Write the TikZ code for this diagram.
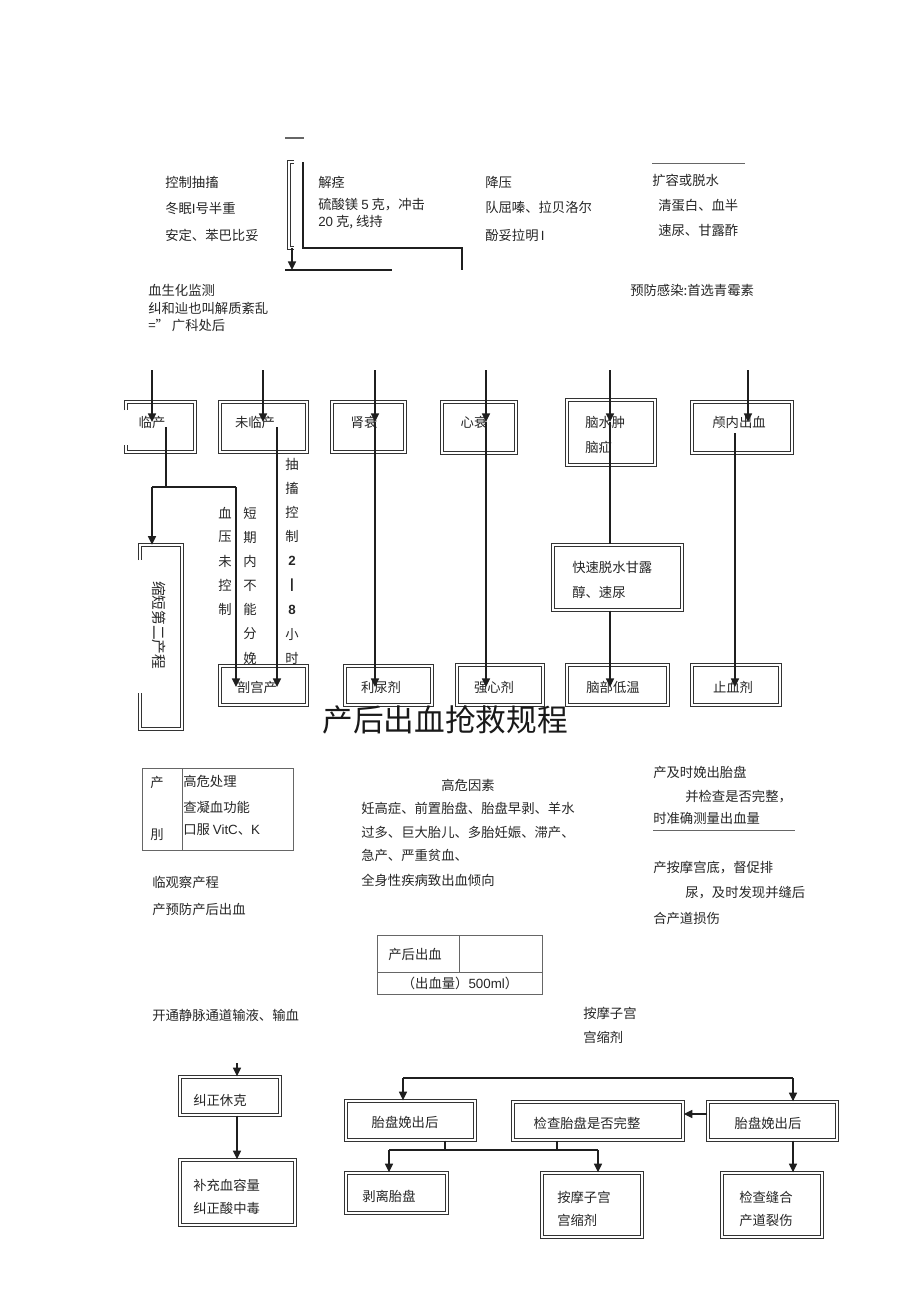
\documentclass[tikz,border=0pt]{standalone}
\usepackage{fontspec}
\setmainfont{Noto Sans CJK SC}
\newfontfamily\latinsans{Liberation Sans}
\usetikzlibrary{arrows.meta,fit,calc}
\begin{document}
\begin{tikzpicture}[x=0.75pt,y=-0.75pt,
  txt/.style={inner sep=0pt, anchor=west, font=\fontsize{10}{12}\selectfont, text=black!85},
  ctxt/.style={inner sep=0pt, font=\fontsize{10}{12}\selectfont, text=black!85},
  dbox/.style={draw=black!80, double=white, double distance=1.5pt, line width=1pt, inner sep=0pt},
  ln/.style={draw=black!88, line width=1.1pt},
  arr/.style={ln, -{Triangle[length=6.5pt,width=6pt]}},
  thinl/.style={draw=black!60, line width=0.6pt}]
\fill[white] (0,0) rectangle (920,1303);
\useasboundingbox (0,0) rectangle (920,1303);

% ---------- top part ----------
\draw[thinl, line width=0.9pt] (285,138) -- (304,138);
\draw[draw=black!80, double=white, double distance=1pt, line width=0.9pt] (294,162) -- (289,162) -- (289,248) -- (294,248);
\draw[ln] (303,162) -- (303,248) -- (462,248) -- (462,270);
\coordinate (ta) at (292,248);
\coordinate (tb) at (292,270);
\draw[arr] (ta) -- (tb);
\draw[ln] (285,270) -- (392,270);

\node[txt] (t1a) at (165,182) {控制抽搐};
\node[txt] (t1b) at (165,208) {冬眠{\latinsans I}号半重};
\node[txt] (t1c) at (165,235) {安定、苯巴比妥};
\node[txt] (t2a) at (318,182) {解痉};
\node[txt] (t2b) at (318,205) {硫酸镁 {\latinsans 5} 克，冲击};
\node[txt] (t2c) at (318,222) {{\latinsans 20} 克, 线持};
\node[txt] (t3a) at (485,182) {降压};
\node[txt] (t3b) at (485,207) {队屈嗪、拉贝洛尔};
\node[txt] (t3c) at (485,235) {酚妥拉明{\latinsans\,I}};
\draw[thinl] (652,163) -- (745,163);
\node[txt] (t4a) at (652,180) {扩容或脱水};
\node[txt] (t4b) at (658,205) {清蛋白、血半};
\node[txt] (t4c) at (658,230) {速尿、甘露酢};
\node[txt] (t5) at (630,290) {预防感染:首选青霉素};
\node[txt] (t6a) at (148,290) {血生化监测};
\node[txt] (t6b) at (148,308) {纠和辿也叫解质紊乱};
\node[txt] (t6c) at (148,325) {=”\ 广科处后};

% ---------- first row of boxes ----------
\draw[dbox] (126,410) -- (126,402) -- (195,402) -- (195,452) -- (126,452) -- (126,445);
\node[inner sep=0pt, fit={(126,402) (195,452)}] (blc) {};
\node[dbox, fit={(220,402) (307,452)}] (bwl) {};
\node[dbox, fit={(332,402) (405,452)}] (bss) {};
\node[dbox, fit={(442,402) (516,453)}] (bxs) {};
\node[dbox, fit={(567,400) (655,465)}] (bns) {};
\node[dbox, fit={(692,402) (792,453)}] (bln) {};

\node[ctxt] (xlc) at (152,422) {临产};
\node[ctxt] (xwl) at (255,422) {未临产};
\node[ctxt] (xss) at (364,422) {肾衰};
\node[ctxt] (xxs) at (474,422) {心衰};
\node[txt] (xns1) at (585,422) {脑水肿};
\node[txt] (xns2) at (585,447) {脑疝};
\node[ctxt] (xln) at (739,422) {颅内出血};

% ---------- second row of boxes ----------
\draw[dbox] (140,560) -- (140,545) -- (182,545) -- (182,729) -- (140,729) -- (140,693);
\node[inner sep=0pt, fit={(140,545) (182,729)}] (bsd) {};
\node[ctxt, rotate=-90, font=\fontsize{11}{12}\selectfont] (xsd) at (159,625) {缩短第二产程};

\node[dbox, fit={(553,545) (682,610)}] (bks) {};
\node[txt] (xks1) at (572,567) {快速脱水甘露};
\node[txt] (xks2) at (572,592) {醇、速尿};

\node[dbox, fit={(220,666) (307,705)}] (bpg) {};
\node[dbox, fit={(345,666) (432,705)}] (bln2) {};
\node[dbox, fit={(457,665) (543,705)}] (bqx) {};
\node[dbox, fit={(567,665) (668,705)}] (bnb) {};
\node[dbox, fit={(692,665) (780,705)}] (bzx) {};
\node[ctxt] (xpg) at (257,687) {剖宫产};
\node[ctxt] (xlz) at (381,687) {利尿剂};
\node[ctxt] (xqx) at (494,687) {强心剂};
\node[ctxt] (xnb) at (613,687) {脑部低温};
\node[ctxt] (xzx) at (733,687) {止血剂};

% vertical text columns
\foreach \c [count=\i from 0] in {血,压,未,控,制}
  \node[ctxt] (va\i) at (225,513+24.2*\i) {\c};
\foreach \c [count=\i from 0] in {短,期,内,不,能,分,娩}
  \node[ctxt] (vb\i) at (250,513+24.2*\i) {\c};
\foreach \c [count=\i from 0] in {抽,搐,控,制,{\latinsans\bfseries 2},{\latinsans\bfseries |},{\latinsans\bfseries 8},小,时}
  \node[ctxt] (vc\i) at (292,464+24.3*\i) {\c};

% connectors upper flow
\coordinate (s1) at (152,370);
\coordinate (s2) at (263,370);
\coordinate (s3) at (375,370);
\coordinate (s4) at (486,370);
\coordinate (s5) at (610,370);
\coordinate (s6) at (748,370);
\draw[arr] (s1) -- (s1 |- xlc.center);
\draw[arr] (s2) -- (s2 |- xwl.center);
\draw[arr] (s3) -- (s3 |- xss.center);
\draw[arr] (s4) -- (s4 |- xxs.center);
\draw[arr] (s5) -- (s5 |- xns1.center);
\draw[arr] (s6) -- (s6 |- xln.center);

\coordinate (p1) at (166,487);
\coordinate (p2) at (152,487);
\coordinate (p3) at (236,487);
\draw[ln] (p1 |- 0,427) -- (p1);
\draw[ln] (p2) -- (p3);
\draw[arr] (p2) -- (p2 |- bsd.north);
\draw[arr] (p3) -- (p3 |- xpg.center);
\coordinate (p4) at (277,427);
\draw[arr] (p4) -- (p4 |- xpg.center);
\draw[arr] (s3 |- xss.center) -- (s3 |- xlz.center);
\draw[arr] (s4 |- xxs.center) -- (s4 |- xqx.center);
\draw[ln] (s5 |- xns1.center) -- (s5 |- bks.north);
\draw[arr] (s5 |- bks.south) -- (s5 |- xnb.center);
\coordinate (p5) at (735,433);
\draw[arr] (p5) -- (p5 |- xzx.center);

% ---------- title ----------
\node[inner sep=0pt, font=\fontsize{23}{26}\selectfont, text=black!90] (title) at (445,720) {产后出血抢救规程};

% ---------- lower texts ----------
\node[thinl, draw, inner sep=0pt, fit={(142,768) (293,850)}] (tab1) {};
\draw[thinl] (182,768) -- (182,850);
\node[ctxt] (ta1) at (157,782) {产};
\node[ctxt] (ta2) at (157,835) {刖};
\node[txt] (tb1) at (183,781) {高危处理};
\node[txt] (tb2) at (183,807) {查凝血功能};
\node[txt] (tb3) at (183,830) {口服 {\latinsans VitC}、{\latinsans K}};
\node[txt] (tc1) at (152,882) {临观察产程};
\node[txt] (tc2) at (152,909) {产预防产后出血};

\node[ctxt] (hw0) at (468,785) {高危因素};
\node[txt] (hw1) at (361,808) {妊高症、前置胎盘、胎盘早剥、羊水};
\node[txt] (hw2) at (361,832) {过多、巨大胎儿、多胎妊娠、滞产、};
\node[txt] (hw3) at (361,855) {急产、严重贫血、};
\node[txt] (hw4) at (361,880) {全身性疾病致出血倾向};

\node[txt] (r1) at (653,772) {产及时娩出胎盘};
\node[txt] (r2) at (685,797) {并检查是否完整，};
\node[txt] (r3) at (653,818) {时准确测量出血量};
\draw[thinl] (653,830) -- (795,830);
\node[txt] (r4) at (653,868) {产按摩宫底，督促排};
\node[txt] (r5) at (685,893) {尿，及时发现并缝后};
\node[txt] (r6) at (653,918) {合产道损伤};

\node[thinl, draw, inner sep=0pt, fit={(377,935) (542,994)}] (tab2) {};
\draw[thinl] (377,972) -- (542,972);
\draw[thinl] (459,935) -- (459,972);
\node[ctxt] (cx1) at (415,954) {产后出血};
\node[ctxt] (cx2) at (460,983) {（出血量）{\latinsans 500ml}）};

\node[txt] (kt) at (152,1015) {开通静脉通道输液、输血};
\node[txt] (am1) at (583,1013) {按摩子宫};
\node[txt] (am2) at (583,1037) {宫缩剂};

% ---------- bottom flow ----------
\node[dbox, fit={(180,1077) (280,1115)}] (jz) {};
\node[txt] (xjz) at (193,1100) {纠正休克};
\node[dbox, fit={(180,1160) (295,1225)}] (bc) {};
\node[txt] (xbc1) at (193,1185) {补充血容量};
\node[txt] (xbc2) at (193,1208) {纠正酸中毒};
\node[dbox, fit={(346,1101) (475,1140)}] (tp1) {};
\node[ctxt] (xtp1) at (405,1122) {胎盘娩出后};
\node[dbox, fit={(346,1173) (447,1213)}] (bl) {};
\node[txt] (xbl) at (362,1196) {剥离胎盘};
\node[dbox, fit={(513,1102) (683,1140)}] (jc) {};
\node[ctxt] (xjc) at (587,1123) {检查胎盘是否完整};
\node[dbox, fit={(708,1102) (837,1140)}] (tp2) {};
\node[ctxt] (xtp2) at (768,1123) {胎盘娩出后};
\node[dbox, fit={(542,1173) (642,1237)}] (am) {};
\node[txt] (xam1) at (557,1197) {按摩子宫};
\node[txt] (xam2) at (557,1220) {宫缩剂};
\node[dbox, fit={(722,1173) (822,1237)}] (jf) {};
\node[txt] (xjf1) at (739,1197) {检查缝合};
\node[txt] (xjf2) at (739,1220) {产道裂伤};

\coordinate (jx) at (237,1063);
\draw[arr] (jx) -- (jx |- jz.north);
\draw[arr] (jx |- jz.south) -- (jx |- bc.north);

\coordinate (L) at (403,1078);
\coordinate (R) at (793,1078);
\draw[ln] (L) -- (R);
\draw[arr] (L) -- (L |- tp1.north);
\draw[arr] (R) -- (R |- tp2.north);
\coordinate (ya) at (0,1114);
\draw[arr] (tp2.west |- ya) -- (jc.east |- ya);
\coordinate (b1) at (445,1150);
\coordinate (b2) at (557,1150);
\coordinate (bl0) at (389,1150);
\coordinate (br0) at (598,1150);
\draw[ln] (b1 |- tp1.south) -- (b1);
\draw[ln] (b2 |- jc.south) -- (b2);
\draw[ln] (bl0) -- (br0);
\draw[arr] (bl0) -- (bl0 |- bl.north);
\draw[arr] (br0) -- (br0 |- am.north);
\draw[arr] (R |- tp2.south) -- (R |- jf.north);
\end{tikzpicture}
\end{document}
